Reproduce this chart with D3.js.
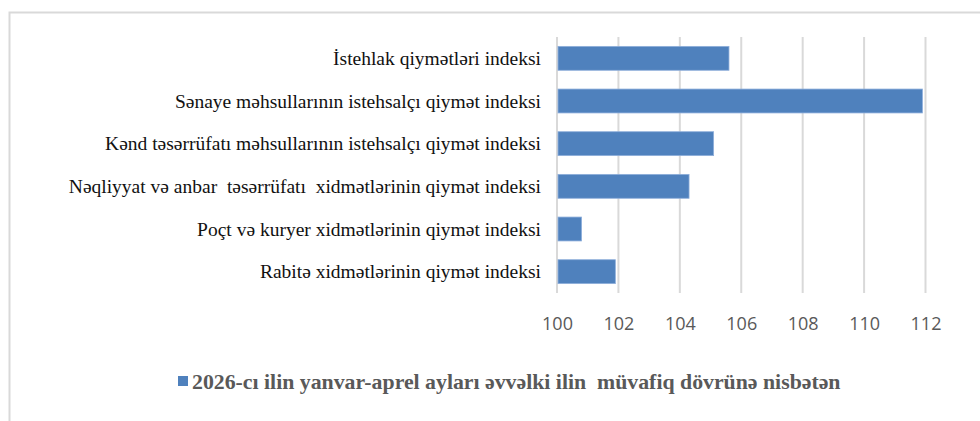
<!DOCTYPE html>
<meta charset="utf-8">
<style>
body { margin: 0; background: #fff; }
.grid line { stroke: #d9d9d9; stroke-width: 2; }
.x.axis text { font-family: "Open Sans", Arial; font-size: 18px; fill: #595959; }
.cat { font-family: "Liberation Serif", "Times New Roman", serif; font-size: 19.5px; fill: #111; text-anchor: end; white-space: pre; }
.legend { font-family: "Liberation Serif", "Times New Roman", serif; font-size: 21.8px; font-weight: bold; fill: #595959; white-space: pre; }
</style>
<body>
<svg id="chart" width="980" height="421"></svg>
<script src="https://cdn.jsdelivr.net/npm/d3@7"></script>
<script>
var categories = [
  "İstehlak qiymətləri indeksi",
  "Sənaye məhsullarının istehsalçı qiymət indeksi",
  "Kənd təsərrüfatı məhsullarının istehsalçı qiymət indeksi",
  "Nəqliyyat və anbar  təsərrüfatı  xidmətlərinin qiymət indeksi",
  "Poçt və kuryer xidmətlərinin qiymət indeksi",
  "Rabitə xidmətlərinin qiymət indeksi"
];
var values = [105.6, 111.9, 105.1, 104.3, 100.8, 101.9];
var ticks = [100, 102, 104, 106, 108, 110, 112];
var seriesName = "2026-cı ilin yanvar-aprel ayları əvvəlki ilin  müvafiq dövrünə nisbətən";

var svg = d3.select("#chart");
var margin = {top: 37, right: 55, bottom: 128, left: 557},
    width = 980 - margin.left - margin.right,
    height = 421 - margin.top - margin.bottom;

// chart frame (cropped on the right and bottom)
svg.append("path")
  .attr("d", "M9.5,421V12.5H980")
  .attr("fill", "none")
  .attr("stroke", "#d9d9d9")
  .attr("stroke-width", 2);

var g = svg.append("g").attr("transform", `translate(${margin.left},${margin.top})`);

var x = d3.scaleLinear().domain([100, 112]).range([0, 368.5]);
var y = d3.scaleBand().domain(categories).range([0, height]).paddingInner(0.44).paddingOuter(0.22);

// gridlines
g.append("g").attr("class", "grid")
  .selectAll("line").data(ticks).enter().append("line")
  .attr("x1", d => x(d)).attr("x2", d => x(d))
  .attr("y1", 0).attr("y2", height);

// bars
g.selectAll(".bar").data(values).enter().append("rect")
  .attr("class", "bar")
  .attr("x", x(100) + 1)
  .attr("y", (d, i) => y(categories[i]))
  .attr("width", d => x(d) - x(100) - 1)
  .attr("height", y.bandwidth())
  .attr("fill", "#4f81bd")
  .attr("stroke", "#8eaedb")
  .attr("stroke-width", 0.8);

// category labels
g.selectAll(".cat").data(categories).enter().append("text")
  .attr("class", "cat")
  .attr("x", -16)
  .attr("y", d => y(d) + y.bandwidth() / 2)
  .attr("dy", "0.35em")
  .text(d => d);

// x axis
var xAxis = d3.axisBottom(x).tickValues(ticks).tickSize(0).tickPadding(24);
g.append("g").attr("class", "x axis")
  .attr("transform", `translate(0,${height})`)
  .call(xAxis)
  .call(s => s.select(".domain").remove());

// legend
var lg = svg.append("g").attr("transform", "translate(178,381)");
lg.append("rect").attr("x", 0).attr("y", -5).attr("width", 10).attr("height", 10).attr("fill", "#4f81bd");
lg.append("text").attr("class", "legend").attr("x", 14).attr("dy", "0.35em").text(seriesName);
</script>
</body>
